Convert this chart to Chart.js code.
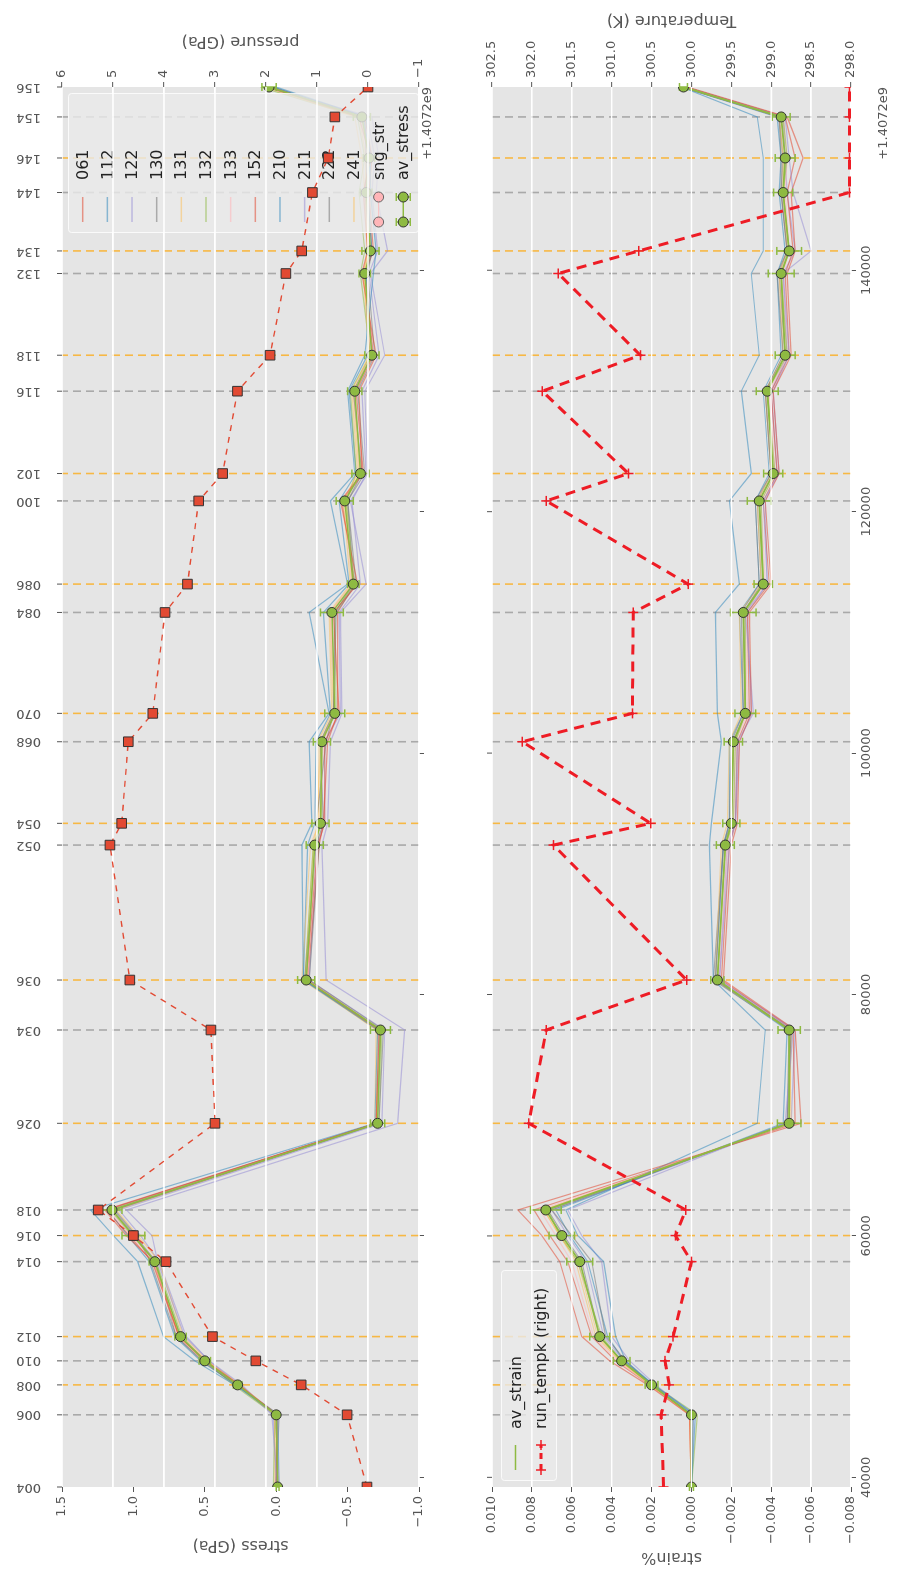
<!DOCTYPE html>
<html>
<head>
<meta charset="utf-8">
<script src="https://cdn.jsdelivr.net/npm/chart.js@4.4.0/dist/chart.umd.min.js"></script>
<style>
html,body{margin:0;padding:0;background:#fff;overflow:hidden;width:897px;height:1578px;}
#fig{position:absolute;left:0;top:0;width:1578px;height:897px;transform-origin:0 0;transform:translate(0,1578px) rotate(-90deg);background:#fff;}
#top{position:absolute;left:0;top:0;}
#bot{position:absolute;left:0;top:450px;}
</style>
</head>
<body>
<div id="fig">
  <canvas id="top" width="1578" height="450"></canvas>
  <canvas id="bot" width="1578" height="447"></canvas>
</div>
<script>
// run names and their times (seconds, offset from 1.4072e9)
const runLabels = ['004','006','008','010','012','014','016','018','026','034','036','052','054','068','070','084','086','100','102','116','118','132','134','144','146','154','156'];
const runTimes = [39200,45180,47660,49650,51660,57870,60030,62150,69330,77060,81200,92380,94180,100940,103290,111650,114000,120890,123160,129980,132960,139730,141600,146440,149300,152700,155180];
const timeTicks = [40000,60000,80000,100000,120000,140000];
const timeOffset = '+1.4072e9';

const sampleNames = ['061','112','122','130','131','132','133','152','210','211','222','241'];

// stress (GPa)
const avStress = [-0.01,0.00,0.27,0.50,0.67,0.85,1.00,1.15,-0.71,-0.73,-0.21,-0.27,-0.31,-0.32,-0.41,-0.39,-0.54,-0.48,-0.59,-0.55,-0.67,-0.62,-0.66,-0.63,-0.65,-0.60,0.05];
const avStressErr = [0.01,0.02,0.03,0.04,0.04,0.04,0.08,0.07,0.05,0.07,0.06,0.06,0.06,0.06,0.07,0.08,0.04,0.06,0.06,0.05,0.05,0.04,0.06,0.04,0.04,0.06,0.05];
const pressureGPa = [0.02,0.41,1.31,2.20,3.05,3.96,4.60,5.29,3.00,3.08,4.67,5.06,4.83,4.70,4.22,3.98,3.54,3.32,2.85,2.56,1.92,1.61,1.30,1.09,0.78,0.65,0.00];

const s061 = [-0.01,0.00,0.26,0.49,0.68,0.87,1.03,1.19,-0.70,-0.72,-0.21,-0.29,-0.34,-0.34,-0.44,-0.40,-0.57,-0.45,-0.60,-0.58,-0.70,-0.60,-0.64,-0.61,-0.66,-0.58,0.06];
const s112 = [-0.02,-0.01,0.29,0.57,0.79,0.97,1.14,1.30,-0.69,-0.71,-0.19,-0.18,-0.25,-0.23,-0.37,-0.23,-0.50,-0.38,-0.55,-0.50,-0.62,-0.68,-0.70,-0.66,-0.66,-0.63,0.00];
const s122 = [-0.01,0.03,0.24,0.47,0.64,0.83,0.87,1.05,-0.85,-0.90,-0.35,-0.32,-0.36,-0.38,-0.46,-0.45,-0.63,-0.52,-0.64,-0.62,-0.76,-0.66,-0.78,-0.70,-0.72,-0.67,0.08];
const s130 = [0.00,-0.02,0.28,0.52,0.70,0.88,0.98,1.13,-0.72,-0.75,-0.23,-0.30,-0.28,-0.35,-0.40,-0.42,-0.56,-0.50,-0.62,-0.57,-0.69,-0.64,-0.67,-0.64,-0.63,-0.62,0.03];
const s131 = [0.01,0.01,0.25,0.48,0.65,0.82,0.97,1.12,-0.70,-0.71,-0.18,-0.24,-0.30,-0.29,-0.39,-0.37,-0.52,-0.47,-0.57,-0.53,-0.65,-0.61,-0.64,-0.62,-0.60,-0.55,0.07];
const s132 = [0.02,0.01,0.30,0.50,0.66,0.84,1.01,1.16,-0.72,-0.74,-0.20,-0.26,-0.32,-0.31,-0.42,-0.41,-0.55,-0.49,-0.56,-0.52,-0.66,-0.59,-0.62,-0.58,-0.62,-0.57,0.11];
const s133 = [-0.02,0.00,0.27,0.51,0.69,0.86,1.02,1.17,-0.71,-0.72,-0.22,-0.27,-0.31,-0.33,-0.41,-0.38,-0.53,-0.48,-0.59,-0.55,-0.66,-0.62,-0.65,-0.63,-0.64,-0.60,0.04];
const s152 = [0.00,-0.01,0.26,0.50,0.68,0.86,1.05,1.20,-0.70,-0.73,-0.22,-0.30,-0.33,-0.36,-0.43,-0.43,-0.55,-0.46,-0.61,-0.56,-0.68,-0.62,-0.68,-0.65,-0.67,-0.62,0.05];
const s210 = [-0.01,0.00,0.28,0.53,0.71,0.89,1.04,1.18,-0.70,-0.72,-0.19,-0.22,-0.27,-0.28,-0.38,-0.33,-0.51,-0.44,-0.56,-0.51,-0.64,-0.63,-0.67,-0.64,-0.66,-0.61,0.02];
const s211 = [0.00,0.02,0.26,0.47,0.63,0.82,0.95,1.10,-0.74,-0.76,-0.23,-0.29,-0.34,-0.34,-0.45,-0.44,-0.59,-0.53,-0.63,-0.60,-0.72,-0.65,-0.71,-0.67,-0.69,-0.64,0.06];
const s222 = [-0.01,0.00,0.27,0.51,0.70,0.84,0.99,1.14,-0.71,-0.73,-0.20,-0.28,-0.33,-0.31,-0.40,-0.41,-0.54,-0.50,-0.60,-0.54,-0.67,-0.63,-0.66,-0.62,-0.65,-0.60,0.03];
const s241 = [0.00,0.01,0.28,0.51,0.68,0.86,1.00,1.15,-0.69,-0.70,-0.20,-0.26,-0.29,-0.31,-0.40,-0.38,-0.53,-0.49,-0.58,-0.54,-0.66,-0.61,-0.65,-0.62,-0.63,-0.58,0.09];

// strain %
const avStrain = [0.0000,0.0000,0.0020,0.0035,0.0046,0.0056,0.0065,0.0073,-0.0049,-0.0049,-0.0013,-0.0017,-0.0020,-0.0021,-0.0027,-0.0026,-0.0036,-0.0034,-0.0041,-0.0038,-0.0047,-0.0045,-0.0049,-0.0046,-0.0047,-0.0045,0.0004];
const avStrainErr = [0.0001,0.0001,0.00032,0.00042,0.0005,0.00065,0.00064,0.00077,0.00059,0.00056,0.00033,0.00045,0.00043,0.00046,0.00052,0.00064,0.00046,0.0006,0.00048,0.00055,0.0005,0.00065,0.00062,0.00048,0.0005,0.00045,0.0002];
const runTempK = [300.35,300.38,300.28,300.33,300.23,300.00,300.20,300.07,302.04,301.82,300.06,301.73,300.51,302.12,300.74,300.73,300.04,301.82,300.79,301.87,300.64,301.67,300.66,298.02,298.02,298.02,298.02];

const e061 = [0.0000,0.0001,0.0022,0.0041,0.0055,0.0066,0.0075,0.0087,-0.0055,-0.0052,-0.0016,-0.0020,-0.0023,-0.0024,-0.0030,-0.0029,-0.0040,-0.0037,-0.0044,-0.0041,-0.0050,-0.0048,-0.0052,-0.0050,-0.0056,-0.0048,0.0002];
const e112 = [0.0000,-0.0002,0.0019,0.0033,0.0038,0.0044,0.0057,0.0063,-0.0033,-0.0037,-0.0011,-0.0009,-0.0010,-0.0015,-0.0013,-0.0012,-0.0024,-0.0019,-0.0030,-0.0025,-0.0034,-0.0030,-0.0036,-0.0036,-0.0036,-0.0033,0.0005];
const e122 = [0.0000,-0.0001,0.0018,0.0031,0.0040,0.0045,0.0055,0.0062,-0.0047,-0.0051,-0.0014,-0.0019,-0.0022,-0.0023,-0.0031,-0.0027,-0.0038,-0.0036,-0.0044,-0.0041,-0.0049,-0.0046,-0.0060,-0.0051,-0.0049,-0.0047,0.0003];
const e130 = [0.0000,0.0000,0.0020,0.0033,0.0043,0.0050,0.0060,0.0070,-0.0048,-0.0050,-0.0012,-0.0016,-0.0019,-0.0020,-0.0026,-0.0025,-0.0034,-0.0032,-0.0040,-0.0037,-0.0046,-0.0043,-0.0048,-0.0045,-0.0045,-0.0044,0.0005];
const e131 = [0.0000,0.0001,0.0021,0.0036,0.0048,0.0058,0.0066,0.0074,-0.0050,-0.0049,-0.0012,-0.0015,-0.0018,-0.0019,-0.0025,-0.0024,-0.0035,-0.0033,-0.0040,-0.0037,-0.0046,-0.0044,-0.0048,-0.0046,-0.0046,-0.0044,0.0004];
const e132 = [0.0000,-0.0003,0.0019,0.0035,0.0045,0.0057,0.0066,0.0072,-0.0049,-0.0050,-0.0013,-0.0017,-0.0021,-0.0022,-0.0027,-0.0027,-0.0036,-0.0035,-0.0042,-0.0038,-0.0048,-0.0045,-0.0049,-0.0046,-0.0048,-0.0046,0.0005];
const e133 = [0.0000,0.0001,0.0021,0.0037,0.0049,0.0060,0.0068,0.0076,-0.0049,-0.0050,-0.0014,-0.0018,-0.0021,-0.0022,-0.0028,-0.0027,-0.0037,-0.0035,-0.0042,-0.0039,-0.0048,-0.0046,-0.0049,-0.0047,-0.0048,-0.0046,0.0004];
const e152 = [0.0000,0.0000,0.0021,0.0038,0.0050,0.0062,0.0071,0.0079,-0.0052,-0.0051,-0.0015,-0.0019,-0.0022,-0.0023,-0.0029,-0.0028,-0.0039,-0.0036,-0.0043,-0.0040,-0.0049,-0.0047,-0.0051,-0.0048,-0.0052,-0.0047,0.0003];
const e210 = [0.0000,-0.0001,0.0019,0.0034,0.0042,0.0052,0.0061,0.0068,-0.0046,-0.0048,-0.0012,-0.0016,-0.0019,-0.0019,-0.0026,-0.0024,-0.0034,-0.0032,-0.0039,-0.0036,-0.0045,-0.0043,-0.0047,-0.0044,-0.0045,-0.0043,0.0005];
const e211 = [0.0000,0.0000,0.0020,0.0034,0.0044,0.0053,0.0062,0.0070,-0.0050,-0.0052,-0.0014,-0.0018,-0.0022,-0.0024,-0.0030,-0.0028,-0.0038,-0.0037,-0.0043,-0.0040,-0.0048,-0.0046,-0.0052,-0.0048,-0.0047,-0.0046,0.0003];
const e222 = [0.0000,0.0000,0.0020,0.0035,0.0046,0.0055,0.0064,0.0072,-0.0048,-0.0049,-0.0011,-0.0016,-0.0020,-0.0021,-0.0027,-0.0026,-0.0035,-0.0033,-0.0040,-0.0037,-0.0047,-0.0044,-0.0048,-0.0045,-0.0046,-0.0044,0.0004];
const e241 = [0.0000,0.0000,0.0020,0.0036,0.0047,0.0057,0.0066,0.0074,-0.0049,-0.0050,-0.0013,-0.0017,-0.0020,-0.0021,-0.0027,-0.0026,-0.0036,-0.0034,-0.0041,-0.0038,-0.0047,-0.0045,-0.0049,-0.0046,-0.0047,-0.0045,0.0004];

const stressSamples = [s061,s112,s122,s130,s131,s132,s133,s152,s210,s211,s222,s241];
const strainSamples = [e061,e112,e122,e130,e131,e132,e133,e152,e210,e211,e222,e241];

const palette = ['#E24A33','#348ABD','#988ED5','#777777','#FBC15E','#8EBA42','#FFB5B8'];
const green = '#8EBA42', pRed = '#E24A33', tRed = '#EE1C25', txt = '#555555';
const FONT = '"DejaVu Sans", sans-serif';
Chart.defaults.font.family = FONT;

function rgba(hex,a){const n=parseInt(hex.slice(1),16);return `rgba(${n>>16},${(n>>8)&255},${n&255},${a})`;}
function mfmt(v,d){const s=Math.abs(v).toFixed(d);return (v<0 && parseFloat(s)!==0?'\u2212':'')+s;}
function pts(ys){return runTimes.map((t,i)=>({x:t,y:ys[i]}));}

function sampleSets(arrs){
  return arrs.map((a,k)=>({label:sampleNames[k],data:pts(a),borderColor:rgba(palette[k%7],0.55),
    borderWidth:1.2,pointRadius:0,tension:0,order:5,yAxisID:'y'}));
}

function vtext(ctx,s,x,y,align){ctx.save();ctx.translate(x,y);ctx.rotate(-Math.PI/2);ctx.textAlign=align;ctx.fillText(s,0,0);ctx.restore();}
function seg(ctx,x0,y0,x1,y1){ctx.beginPath();ctx.moveTo(x0,y0);ctx.lineTo(x1,y1);ctx.stroke();}
function legendBox(ctx,x,y,w,h){
  ctx.save();ctx.fillStyle='rgba(234,234,234,0.8)';ctx.strokeStyle='rgba(255,255,255,0.8)';ctx.lineWidth=1;
  ctx.beginPath();if(ctx.roundRect)ctx.roundRect(x+0.5,y+0.5,w,h,3);else ctx.rect(x+0.5,y+0.5,w,h);ctx.fill();ctx.stroke();ctx.restore();
}
function dot(ctx,x,y,r,fill,edge){ctx.beginPath();ctx.arc(x,y,r,0,Math.PI*2);ctx.fillStyle=fill;ctx.fill();ctx.lineWidth=1;ctx.strokeStyle=edge;ctx.stroke();}

const bgPlugin = {id:'bg',beforeDraw(chart){const {ctx,chartArea:a}=chart;ctx.save();ctx.fillStyle='#E5E5E5';ctx.fillRect(a.left,a.top,a.right-a.left,a.bottom-a.top);ctx.restore();}};

const runLines = {id:'runLines',beforeDatasetsDraw(chart){
  const {ctx,chartArea:a,scales:{x}}=chart;
  ctx.save();ctx.beginPath();ctx.rect(a.left,a.top,a.right-a.left,a.bottom-a.top);ctx.clip();
  ctx.lineWidth=1.6;ctx.setLineDash([8,5]);
  runTimes.forEach((t,i)=>{
    if(i===0||i===runTimes.length-1)return;
    const px=x.getPixelForValue(t);
    ctx.strokeStyle=i%2?'rgba(128,128,128,0.6)':'rgba(255,165,0,0.7)';
    seg(ctx,px,a.bottom,px,a.top);
  });
  ctx.restore();
}};

// error bars under the average markers; legend + twin-axis grid drawn just before the twin series
const layerPlugin = {id:'layers',beforeDatasetDraw(chart,args){
  const ds=chart.data.datasets[args.index];
  const {ctx,chartArea:a}=chart,x=chart.scales.x;
  if(ds.errs){
    const y=chart.scales[ds.yAxisID];
    ctx.save();ctx.strokeStyle=green;ctx.lineWidth=1.5;
    ds.data.forEach((p,i)=>{
      const px=x.getPixelForValue(p.x),y0=y.getPixelForValue(p.y-ds.errs[i]),y1=y.getPixelForValue(p.y+ds.errs[i]);
      seg(ctx,px,y0,px,y1);seg(ctx,px-4,y0,px+4,y0);seg(ctx,px-4,y1,px+4,y1);
    });
    ctx.restore();
  }
  if(ds.twin){
    ds.drawLegend(ctx);
    const y1=chart.scales.y1;
    ctx.save();ctx.strokeStyle='#ffffff';ctx.lineWidth=1.3;
    y1.ticks.forEach(t=>{const py=y1.getPixelForValue(t.value);seg(ctx,a.left,py,a.right,py);});
    ctx.restore();
  }
}};

function leftAxis(min,max,step,dec){
  return {position:'left',min,max,bounds:'data',
    ticks:{stepSize:step,maxTicksLimit:100,autoSkip:false,color:txt,font:{size:13},padding:4,callback:v=>mfmt(v,dec)},
    grid:{drawOnChartArea:false,tickLength:5,tickColor:txt,tickWidth:1},border:{display:false},
    afterFit:s=>{s.width=91;}};
}
function rightAxis(min,max,step,dec){
  return {position:'right',min,max,bounds:'data',
    ticks:{stepSize:step,maxTicksLimit:100,autoSkip:false,color:txt,font:{size:13},padding:4,callback:v=>mfmt(v,dec)},
    grid:{color:'#ffffff',lineWidth:1.3,tickLength:5,tickColor:txt,tickWidth:1},border:{display:false},
    afterFit:s=>{s.width=87;}};
}
function timeAxis(showLabels,h){
  return {type:'linear',position:'bottom',min:runTimes[0],max:runTimes[runTimes.length-1],bounds:'data',
    ticks:{autoSkip:false,display:showLabels,color:txt,font:{size:13},padding:3,maxRotation:0,callback:v=>String(v)},
    afterBuildTicks:s=>{s.ticks=timeTicks.map(v=>({value:v}));},
    grid:{drawOnChartArea:false,tickLength:5,tickColor:txt,tickWidth:1},border:{display:false},
    afterFit:s=>{s.height=h;}};
}

function baseOpts(padTop){
  return {responsive:false,animation:false,devicePixelRatio:1,events:[],
    layout:{padding:{top:padTop,left:0,right:0,bottom:0}},
    plugins:{legend:{display:false},tooltip:{enabled:false}}};
}

// ---------- top panel: stress + pressure ----------
function stressLegend(ctx){
  ctx.save();
  legendBox(ctx,1345,68,139,350);
  const rows=[...sampleNames,'sng_str','av_stress'];
  rows.forEach((name,k)=>{
    const y=82.7+k*24.66;
    if(k<12){ctx.strokeStyle=rgba(palette[k%7],0.55);ctx.lineWidth=1.5;seg(ctx,1356,y,1381,y);}
    else if(k===12){ctx.strokeStyle=rgba('#FFB5B8',0.8);ctx.lineWidth=1;seg(ctx,1356,y,1381,y);
      dot(ctx,1356,y,5,'#FFB5B8','#666');dot(ctx,1381,y,5,'#FFB5B8','#666');}
    else{ctx.strokeStyle=green;ctx.lineWidth=1.5;seg(ctx,1356,y,1381,y);
      [1356,1381].forEach(px=>{ctx.strokeStyle=green;ctx.lineWidth=1.5;seg(ctx,px,y-7,px,y+7);seg(ctx,px-4,y-7,px+4,y-7);seg(ctx,px-4,y+7,px+4,y+7);dot(ctx,px,y,5,green,'#333');});}
    ctx.fillStyle='#222';ctx.font='16px '+FONT;ctx.textAlign='left';ctx.textBaseline='middle';
    ctx.fillText(name,1398,y+1);
  });
  ctx.restore();
}

const topDecor = {id:'topDecor',afterDraw(chart){
  const {ctx,chartArea:a,scales:{x}}=chart;
  ctx.save();
  ctx.fillStyle=txt;ctx.strokeStyle=txt;ctx.lineWidth=1;ctx.font='13px '+FONT;ctx.textBaseline='middle';
  runTimes.forEach((t,i)=>{
    const px=x.getPixelForValue(t);
    seg(ctx,px,a.top,px,a.top-5);
    vtext(ctx,runLabels[i],px,a.top-21,'left');
  });
  ctx.textAlign='right';ctx.fillText(timeOffset,a.right,428);
  ctx.font='16px '+FONT;
  vtext(ctx,'stress (GPa)',33,(a.top+a.bottom)/2,'center');
  vtext(ctx,'pressure (GPa)',1537,(a.top+a.bottom)/2,'center');
  ctx.restore();
}};

new Chart(document.getElementById('top'),{
  type:'line',
  data:{datasets:[
    ...sampleSets(stressSamples),
    {label:'av_stress',data:pts(avStress),errs:avStressErr,yAxisID:'y',order:2,borderColor:green,borderWidth:1.5,tension:0,
      pointRadius:5,pointBackgroundColor:green,pointBorderColor:'#333',pointBorderWidth:1},
    {label:'pressure',data:pts(pressureGPa),twin:true,drawLegend:stressLegend,yAxisID:'y1',order:1,borderColor:pRed,borderWidth:1.4,borderDash:[6,6],tension:0,
      pointStyle:'rect',pointRadius:6.8,pointBackgroundColor:pRed,pointBorderColor:'#333',pointBorderWidth:1}
  ]},
  options:{...baseOpts(62),
    scales:{x:timeAxis(false,31),y:leftAxis(-1.0,1.5,0.5,1),y1:rightAxis(-1,6,1,0)}},
  plugins:[bgPlugin,runLines,layerPlugin,topDecor]
});

// ---------- bottom panel: strain + temperature ----------
function strainLegend(ctx){
  ctx.save();
  legendBox(ctx,97,51,210,55);
  ctx.font='16px '+FONT;ctx.textBaseline='middle';ctx.textAlign='left';
  let y=65.5;
  ctx.strokeStyle=green;ctx.lineWidth=1.5;seg(ctx,108,y,133,y);
  ctx.fillStyle='#222';ctx.fillText('av_strain',149,y+1);
  y=91;
  ctx.strokeStyle=tRed;ctx.lineWidth=3;ctx.setLineDash([6,5]);seg(ctx,108,y,133,y);ctx.setLineDash([]);
  ctx.lineWidth=1.5;[108,133].forEach(px=>{seg(ctx,px-5,y,px+5,y);seg(ctx,px,y-5,px,y+5);});
  ctx.fillStyle='#222';ctx.fillText('run_tempk (right)',149,y+1);
  ctx.restore();
}

const botDecor = {id:'botDecor',afterDraw(chart){
  const {ctx,chartArea:a,scales:{x}}=chart;
  ctx.save();
  ctx.fillStyle=txt;ctx.strokeStyle=txt;ctx.lineWidth=1;
  x.ticks.forEach(t=>{const px=x.getPixelForValue(t.value);seg(ctx,px,a.top,px,a.top-5);});
  ctx.font='13px '+FONT;ctx.textBaseline='middle';ctx.textAlign='right';
  ctx.fillText(timeOffset,a.right,434);
  ctx.font='16px '+FONT;
  vtext(ctx,'strain%',21,(a.top+a.bottom)/2,'center');
  vtext(ctx,'Temperature (K)',1558,(a.top+a.bottom)/2,'center');
  ctx.restore();
}};

new Chart(document.getElementById('bot'),{
  type:'line',
  data:{datasets:[
    ...sampleSets(strainSamples),
    {label:'av_strain',data:pts(avStrain),errs:avStrainErr,yAxisID:'y',order:2,borderColor:green,borderWidth:1.8,tension:0,
      pointRadius:5,pointBackgroundColor:green,pointBorderColor:'#333',pointBorderWidth:1},
    {label:'run_tempk (right)',data:pts(runTempK),twin:true,drawLegend:strainLegend,yAxisID:'y1',order:1,borderColor:tRed,borderWidth:3,borderDash:[10,7],tension:0,
      pointStyle:'cross',pointRadius:5,pointBorderColor:tRed,pointBorderWidth:1.5}
  ]},
  options:{...baseOpts(42),
    scales:{x:timeAxis(true,46),y:leftAxis(-0.008,0.010,0.002,3),y1:rightAxis(298.0,302.5,0.5,1)}},
  plugins:[bgPlugin,runLines,layerPlugin,botDecor]
});
</script>
</body>
</html>
